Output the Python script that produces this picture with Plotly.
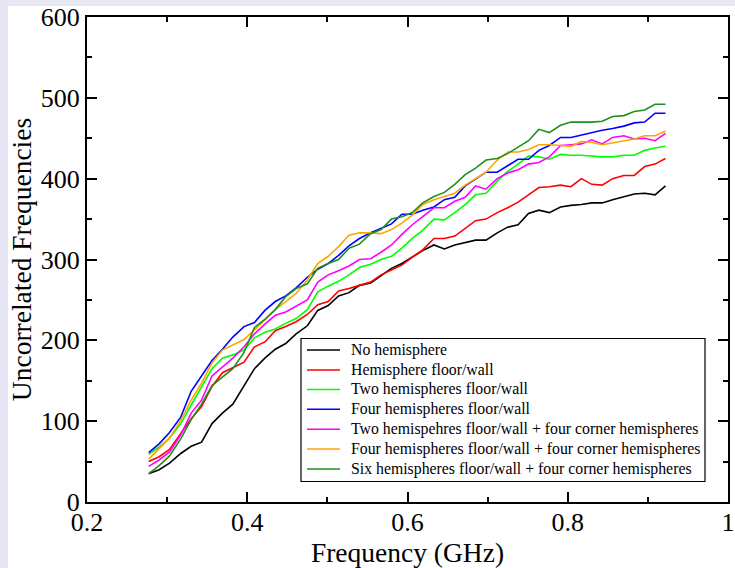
import plotly.graph_objects as go

FREQ = [0.277, 0.290, 0.303, 0.317, 0.330, 0.343, 0.356, 0.369, 0.382, 0.396,
        0.409, 0.422, 0.435, 0.448, 0.461, 0.475, 0.488, 0.501, 0.514, 0.527,
        0.540, 0.554, 0.567, 0.580, 0.593, 0.606, 0.619, 0.633, 0.646, 0.659,
        0.672, 0.685, 0.698, 0.712, 0.725, 0.738, 0.751, 0.764, 0.777, 0.791,
        0.804, 0.817, 0.830, 0.843, 0.856, 0.870, 0.883, 0.896, 0.909, 0.922]

NO_HEMI = [35, 40, 48, 60, 69, 74, 97, 110, 121, 143,
           165, 178, 189, 196, 208, 218, 237, 243, 255, 259,
           268, 271, 280, 289, 295, 303, 311, 318, 313, 318,
           321, 324, 324, 333, 340, 343, 357, 361, 358, 365,
           367, 368, 370, 370, 374, 378, 381, 382, 380, 391]

HEMI_1 = [50, 56, 65, 85, 103, 118, 143, 160, 166, 173,
          192, 198, 212, 217, 223, 232, 244, 248, 261, 264,
          268, 272, 281, 287, 293, 303, 312, 326, 326, 329,
          338, 348, 350, 358, 364, 371, 380, 389, 390, 392,
          390, 400, 393, 392, 400, 404, 404, 415, 418, 425]

HEMI_2 = [59, 68, 79, 97, 120, 143, 165, 178, 182, 188,
          203, 210, 214, 221, 227, 238, 260, 267, 273, 281,
          290, 294, 300, 304, 314, 326, 336, 350, 349, 358,
          368, 380, 382, 397, 409, 418, 428, 427, 424, 430,
          429, 429, 428, 427, 427, 429, 429, 435, 438, 440]

HEMI_4 = [61, 72, 86, 105, 137, 156, 175, 189, 204, 217,
          222, 237, 248, 255, 265, 278, 288, 295, 305, 317,
          326, 333, 338, 344, 356, 356, 361, 365, 374, 377,
          391, 400, 408, 408, 416, 424, 424, 435, 441, 451,
          451, 454, 457, 460, 462, 465, 469, 470, 481, 481]

HEMI_2_C4 = [44, 52, 62, 83, 110, 126, 156, 167, 178, 192,
             208, 220, 231, 235, 242, 250, 272, 281, 286, 292,
             300, 301, 309, 318, 331, 343, 353, 364, 364, 372,
             377, 391, 387, 400, 407, 411, 418, 420, 427, 441,
             442, 443, 448, 443, 451, 453, 449, 450, 447, 456]

HEMI_4_C4 = [53, 66, 79, 101, 126, 147, 172, 188, 194, 201,
             213, 226, 238, 248, 258, 275, 295, 304, 316, 330,
             333, 333, 332, 337, 345, 355, 368, 374, 378, 382,
             392, 400, 408, 423, 433, 433, 436, 442, 442, 441,
             440, 446, 445, 442, 444, 447, 449, 453, 453, 459]

HEMI_6_C4 = [35, 45, 57, 78, 102, 121, 144, 155, 165, 185,
             216, 226, 238, 254, 264, 270, 289, 295, 300, 314,
             319, 332, 337, 350, 353, 358, 370, 378, 383, 393,
             405, 413, 423, 425, 431, 439, 447, 461, 457, 466,
             470, 470, 470, 471, 477, 478, 483, 485, 492, 492]

SERIES = [
    ("No hemisphere", NO_HEMI, "#000000"),
    ("Hemisphere floor/wall", HEMI_1, "#ff0000"),
    ("Two hemispheres floor/wall", HEMI_2, "#00ff00"),
    ("Four hemispheres floor/wall", HEMI_4, "#0000ff"),
    ("Two hemispehres floor/wall + four corner hemispheres", HEMI_2_C4, "#ff00ff"),
    ("Four hemispheres floor/wall + four corner hemispheres", HEMI_4_C4, "#ffa500"),
    ("Six hemispheres floor/wall + four corner hemispheres", HEMI_6_C4, "#1f8f1f"),
]

FONT = "Liberation Serif, Times New Roman, serif"

fig = go.Figure()
for name, vals, col in SERIES:
    fig.add_trace(go.Scatter(x=FREQ, y=vals, mode="lines", name=name,
                             line=dict(color=col, width=1.6), showlegend=False))

axis_common = dict(
    showline=True, linecolor="black", linewidth=2, mirror="allticks",
    ticks="inside", ticklen=10, tickwidth=1.5, tickcolor="black",
    showgrid=False, zeroline=False,
    tickfont=dict(family=FONT, size=26, color="black"),
)

fig.update_xaxes(range=[0.2, 1.0], dtick=0.2, tick0=0.2, ticklabelstandoff=-4,
                 minor=dict(ticks="inside", ticklen=5, dtick=0.1, tickwidth=1.5,
                            tickcolor="black", showgrid=False),
                 title=dict(text="Frequency (GHz)", standoff=1,
                            font=dict(family=FONT, size=27.5, color="black")),
                 **axis_common)
fig.update_yaxes(range=[0, 600], dtick=100,
                 minor=dict(ticks="inside", ticklen=5, dtick=50, tickwidth=1.5,
                            tickcolor="black", showgrid=False),
                 title=dict(text="Uncorrelated Frequencies", standoff=1,
                            font=dict(family=FONT, size=27.5, color="black")),
                 **axis_common)

L, R, T, B = 87, 7, 17, 66
PW, PH = 735 - L - R, 568 - T - B


def px(xp):
    return (xp - L) / PW


def py(yp):
    return (T + PH - yp) / PH


# lavender strips on the left and top edges
fig.add_shape(type="rect", xref="paper", yref="paper", layer="below",
              x0=px(-20), x1=px(8), y0=py(600), y1=py(-20),
              fillcolor="#e6e6f5", line=dict(width=0))
fig.add_shape(type="rect", xref="paper", yref="paper", layer="below",
              x0=px(-20), x1=px(760), y0=py(6), y1=py(-20),
              fillcolor="#e6e6f5", line=dict(width=0))

# legend box
fig.add_shape(type="rect", xref="paper", yref="paper",
              x0=px(301), x1=px(705), y0=py(481.5), y1=py(338.5),
              fillcolor="white", line=dict(color="black", width=1.2))
row_y = [350, 370, 389.5, 409.3, 429.3, 449, 469]
for (name, _, col), yy in zip(SERIES, row_y):
    fig.add_shape(type="line", xref="paper", yref="paper",
                  x0=px(307), x1=px(340), y0=py(yy), y1=py(yy),
                  line=dict(color=col, width=1.6))
    fig.add_annotation(xref="paper", yref="paper", x=px(349), y=py(yy),
                       xanchor="left", yanchor="middle", showarrow=False,
                       text=name, font=dict(family=FONT, size=15.8, color="black"))

fig.update_layout(
    width=735, height=568,
    margin=dict(l=L, r=R, t=T, b=B, autoexpand=False),
    paper_bgcolor="white", plot_bgcolor="white",
    font=dict(family=FONT, color="black"),
    showlegend=False,
)

fig.write_html("out.html")
